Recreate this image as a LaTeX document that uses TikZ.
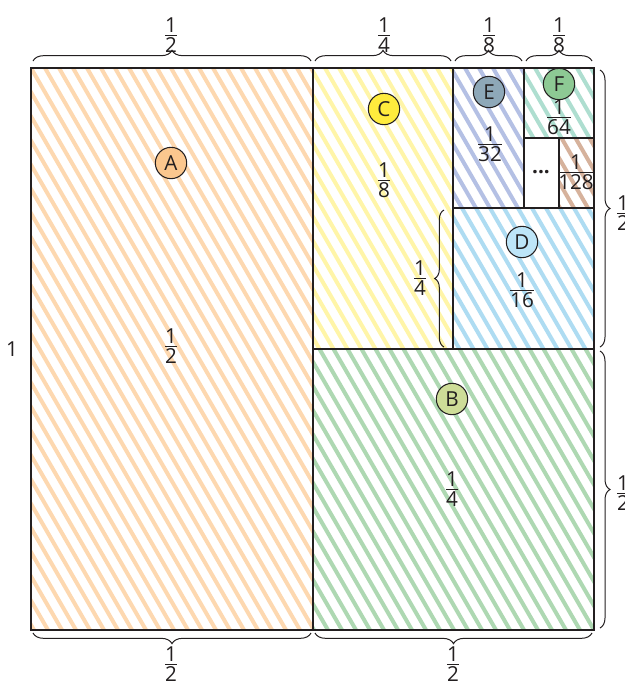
\documentclass[tikz,border=0pt]{standalone}
\usepackage{amsmath}
\usepackage{fontspec}
\setmainfont{Open Sans}
\usetikzlibrary{decorations.pathreplacing}
\newcommand\fr[2]{$\genfrac{}{}{1pt}{1}{\mbox{#1}}{\mbox{#2}}$}
\definecolor{inkc}{HTML}{231F20}
\definecolor{aS}{HTML}{FDD8B0}\definecolor{aC}{HTML}{FBC78E}
\definecolor{cS}{HTML}{FFF5A8}\definecolor{cC}{HTML}{FFEC3D}
\definecolor{eS}{HTML}{B4C0E4}\definecolor{eC}{HTML}{8EA8B8}
\definecolor{fS}{HTML}{AEDED0}\definecolor{fC}{HTML}{8DC994}
\definecolor{gS}{HTML}{D6B29C}
\definecolor{dS}{HTML}{AEDCF2}\definecolor{dC}{HTML}{BDE5F8}
\definecolor{bS}{HTML}{AED8B2}\definecolor{bC}{HTML}{CEDD98}
\newcommand\hatch[5]{%
  \begin{scope}
    \clip (#2,#3) rectangle (#4,#5);
    \foreach \k in {-24,...,41}
      \draw[#1, line width=3pt] ({31+14*\k},68) -- ++(325,562);
  \end{scope}}
\begin{document}
\begin{tikzpicture}[x=0.75pt,y=-0.75pt,
  txt/.style={font=\fontsize{15.5}{18}\selectfont, text=inkc, inner sep=1pt},
  circ/.style={circle, draw=inkc, line width=0.8pt, minimum size=23.5pt, inner sep=0pt, font=\fontsize{15.5}{18}\selectfont, text=inkc},
  rl/.style={draw=inkc, line width=1pt},
  br/.style={draw=inkc, line width=0.75pt, decorate, decoration={brace, amplitude=#1}},
  br/.default=8pt]
\useasboundingbox (0,0) rectangle (625,687);
% hatching
\hatch{aS}{31}{68}{313}{630}
\hatch{bS}{313}{349}{594}{630}
\hatch{cS}{313}{68}{453}{349}
\hatch{dS}{453}{208}{594}{349}
\hatch{eS}{453}{68}{524}{208}
\hatch{fS}{524}{68}{594}{138}
\hatch{gS}{559}{138}{594}{208}
% borders
\draw[rl] (31,68) rectangle (594,630);
\draw[rl] (313,68) -- (313,630);
\draw[rl] (313,349) -- (594,349);
\draw[rl] (453,68) -- (453,349);
\draw[rl] (453,208) -- (594,208);
\draw[rl] (524,68) -- (524,208);
\draw[rl] (524,138) -- (594,138);
\draw[rl] (559,138) -- (559,208);
% circles
\node[circ, fill=aC] (cA) at (171,163) {A};
\node[circ, fill=bC] (cB) at (452,399) {B};
\node[circ, fill=cC] (cCc) at (384,109) {C};
\node[circ, fill=dC] (cD) at (522,242) {D};
\node[circ, fill=eC] (cE) at (489,92) {E};
\node[circ, fill=fC] (cF) at (559,84) {F};
% region fractions
\node[txt] (fA) at (171,346) {\fr{1}{2}};
\node[txt] (fB) at (452,489) {\fr{1}{4}};
\node[txt] (fC) at (384,180) {\fr{1}{8}};
\node[txt] (fD) at (522,290) {\fr{1}{16}};
\node[txt] (fE) at (490,144) {\fr{1}{32}};
\node[txt] (fF) at (559,117) {\fr{1}{64}};
\node[txt] (fG) at (576,172) {\fr{1}{128}};
\node[txt, font=\fontsize{15.5}{18}\selectfont\bfseries] (dots) at (541,172) {...};
% braces
\coordinate (t1a) at (33,61);  \coordinate (t1b) at (311,61);
\coordinate (t2a) at (315,61); \coordinate (t2b) at (451,61);
\coordinate (t3a) at (455,61); \coordinate (t3b) at (522,61);
\coordinate (t4a) at (526,61); \coordinate (t4b) at (592,61);
\draw[br] (t1a) -- (t1b);
\draw[br] (t2a) -- (t2b);
\draw[br] (t3a) -- (t3b);
\draw[br] (t4a) -- (t4b);
\node[txt] (lt1) at (171,35) {\fr{1}{2}};
\node[txt] (lt2) at (384,35) {\fr{1}{4}};
\node[txt] (lt3) at (489,35) {\fr{1}{8}};
\node[txt] (lt4) at (559,35) {\fr{1}{8}};
\coordinate (b1a) at (311,633); \coordinate (b1b) at (33,633);
\coordinate (b2a) at (592,633); \coordinate (b2b) at (315,633);
\draw[br] (b1a) -- (b1b);
\draw[br] (b2a) -- (b2b);
\node[txt] (lb1) at (171,664) {\fr{1}{2}};
\node[txt] (lb2) at (453,664) {\fr{1}{2}};
\coordinate (r1a) at (600,70);  \coordinate (r1b) at (600,347);
\coordinate (r2a) at (600,351); \coordinate (r2b) at (600,628);
\draw[br=7.5pt] (r1a) -- (r1b);
\draw[br=7.5pt] (r2a) -- (r2b);
\node[txt] (lr1) at (623,213) {\fr{1}{2}};
\node[txt] (lr2) at (623,493) {\fr{1}{2}};
\coordinate (iA) at (444,347); \coordinate (iB) at (444,210);
\draw[br=7pt] (iA) -- (iB);
\node[txt] (li) at (420,278) {\fr{1}{4}};
\node[txt] (lone) at (12,349) {1};
\end{tikzpicture}
\end{document}
